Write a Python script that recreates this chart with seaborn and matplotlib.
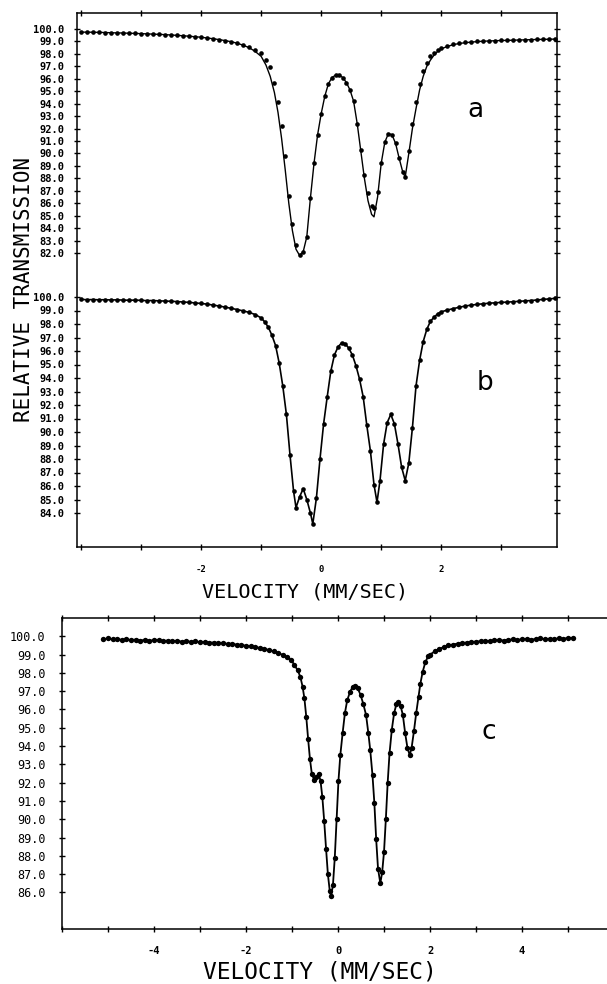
import matplotlib
matplotlib.use("Agg")
import matplotlib.pyplot as plt
import seaborn as sns

# Spectre a (haut) : points mesures + courbe ajustee
vel_a = [-4.0, -3.9, -3.8, -3.7, -3.6, -3.5, -3.4, -3.3, -3.2, -3.1,
         -3.0, -2.9, -2.8, -2.7, -2.6, -2.5, -2.4, -2.3, -2.2, -2.1,
         -2.0, -1.9, -1.8, -1.7, -1.6, -1.5, -1.4, -1.3, -1.2, -1.1,
         -1.0, -0.92, -0.85, -0.78, -0.72, -0.66, -0.60, -0.54, -0.48, -0.42,
         -0.36, -0.30, -0.24, -0.18, -0.12, -0.06, 0.0, 0.06, 0.12, 0.18,
         0.24, 0.30, 0.36, 0.42, 0.48, 0.54, 0.60, 0.66, 0.72, 0.78,
         0.84, 0.88, 0.94, 1.00, 1.06, 1.12, 1.18, 1.24, 1.30, 1.36,
         1.40, 1.46, 1.52, 1.58, 1.64, 1.70, 1.76, 1.82, 1.88, 1.94,
         2.0, 2.1, 2.2, 2.3, 2.4, 2.5, 2.6, 2.7, 2.8, 2.9,
         3.0, 3.1, 3.2, 3.3, 3.4, 3.5, 3.6, 3.7, 3.8, 3.9]
trans_a = [99.75, 99.75, 99.74, 99.73, 99.72, 99.70, 99.69, 99.68, 99.66, 99.65,
           99.63, 99.61, 99.59, 99.57, 99.55, 99.52, 99.49, 99.46, 99.42, 99.38,
           99.34, 99.28, 99.22, 99.15, 99.07, 98.98, 98.88, 98.75, 98.58, 98.35,
           98.05, 97.55, 96.95, 95.7, 94.1, 92.2, 89.8, 86.6, 84.3, 82.6,
           81.85, 82.1, 83.3, 86.4, 89.2, 91.5, 93.2, 94.6, 95.6, 96.1,
           96.3, 96.3, 96.1, 95.7, 95.1, 94.2, 92.4, 90.3, 88.3, 86.8,
           85.8, 85.6, 86.9, 89.2, 90.9, 91.6, 91.5, 90.8, 89.6, 88.5,
           88.1, 90.2, 92.4, 94.1, 95.6, 96.6, 97.3, 97.8, 98.1, 98.35,
           98.5, 98.65, 98.78, 98.86, 98.92, 98.96, 99.0, 99.02, 99.04, 99.06,
           99.08, 99.09, 99.1, 99.12, 99.13, 99.15, 99.16, 99.17, 99.18, 99.19]
fit_a = [99.75, 99.75, 99.74, 99.73, 99.72, 99.70, 99.69, 99.68, 99.66, 99.65,
         99.63, 99.61, 99.59, 99.57, 99.55, 99.52, 99.49, 99.46, 99.42, 99.38,
         99.34, 99.28, 99.22, 99.15, 99.07, 98.98, 98.86, 98.7, 98.5, 98.2,
         97.8, 97.1, 96.2, 94.9, 93.3, 91.2, 88.7, 86.0, 83.8, 82.3,
         81.8, 82.1, 83.3, 86.4, 89.2, 91.5, 93.2, 94.6, 95.6, 96.1,
         96.3, 96.3, 96.1, 95.7, 95.1, 94.2, 92.4, 90.2, 88.0, 86.2,
         85.1, 84.9, 86.5, 89.2, 90.9, 91.6, 91.5, 90.8, 89.6, 88.5,
         88.1, 90.0, 92.0, 93.6, 95.1, 96.2, 97.0, 97.5, 97.9, 98.2,
         98.4, 98.6, 98.74, 98.84, 98.9, 98.95, 98.99, 99.02, 99.04, 99.06,
         99.08, 99.09, 99.1, 99.12, 99.13, 99.15, 99.16, 99.17, 99.18, 99.19]

# Spectre b (milieu)
vel_b = [-4.0, -3.9, -3.8, -3.7, -3.6, -3.5, -3.4, -3.3, -3.2, -3.1,
         -3.0, -2.9, -2.8, -2.7, -2.6, -2.5, -2.4, -2.3, -2.2, -2.1,
         -2.0, -1.9, -1.8, -1.7, -1.6, -1.5, -1.4, -1.3, -1.2, -1.1,
         -1.0, -0.94, -0.88, -0.82, -0.76, -0.70, -0.64, -0.58, -0.52, -0.46,
         -0.42, -0.36, -0.30, -0.24, -0.18, -0.14, -0.08, -0.02, 0.04, 0.10,
         0.16, 0.22, 0.28, 0.34, 0.40, 0.46, 0.52, 0.58, 0.64, 0.70,
         0.76, 0.82, 0.88, 0.93, 0.98, 1.04, 1.10, 1.16, 1.22, 1.28,
         1.34, 1.40, 1.46, 1.52, 1.58, 1.64, 1.70, 1.76, 1.82, 1.88,
         1.94, 2.0, 2.1, 2.2, 2.3, 2.4, 2.5, 2.6, 2.7, 2.8,
         2.9, 3.0, 3.1, 3.2, 3.3, 3.4, 3.5, 3.6, 3.7, 3.8, 3.9]
trans_b = [99.82, 99.80, 99.81, 99.79, 99.80, 99.78, 99.79, 99.77, 99.76, 99.77,
           99.75, 99.73, 99.74, 99.71, 99.70, 99.68, 99.66, 99.63, 99.60, 99.56,
           99.52, 99.47, 99.40, 99.33, 99.25, 99.16, 99.07, 98.97, 98.86, 98.70,
           98.45, 98.15, 97.75, 97.15, 96.4, 95.1, 93.4, 91.3, 88.3, 85.6,
           84.4, 85.2, 85.8, 85.0, 84.0, 83.2, 85.1, 88.0, 90.6, 92.6,
           94.5, 95.7, 96.3, 96.6, 96.55, 96.2, 95.7, 94.9, 93.9, 92.6,
           90.5, 88.6, 86.1, 84.8, 86.4, 89.1, 90.7, 91.3, 90.6, 89.1,
           87.4, 86.4, 87.7, 90.3, 93.4, 95.3, 96.7, 97.6, 98.2, 98.5,
           98.75, 98.9, 99.03, 99.14, 99.24, 99.33, 99.40, 99.45, 99.50, 99.54,
           99.57, 99.60, 99.62, 99.65, 99.68, 99.71, 99.74, 99.78, 99.82, 99.86, 99.90]

# Spectre c (bas)
vel_c = [-5.1, -5.0, -4.9, -4.8, -4.7, -4.6, -4.5, -4.4, -4.3, -4.2,
         -4.1, -4.0, -3.9, -3.8, -3.7, -3.6, -3.5, -3.4, -3.3, -3.2,
         -3.1, -3.0, -2.9, -2.8, -2.7, -2.6, -2.5, -2.4, -2.3, -2.2,
         -2.1, -2.0, -1.9, -1.8, -1.7, -1.6, -1.5, -1.4, -1.3, -1.2, -1.1,
         -1.02, -0.95, -0.88, -0.82, -0.77, -0.73, -0.69, -0.65, -0.61, -0.57,
         -0.52, -0.47, -0.42, -0.38, -0.34, -0.30, -0.26, -0.22, -0.18, -0.15,
         -0.11, -0.07, -0.03, 0.01, 0.05, 0.10, 0.15, 0.20, 0.26, 0.32,
         0.37, 0.43, 0.49, 0.55, 0.61, 0.66, 0.70, 0.75, 0.79, 0.83,
         0.87, 0.92, 0.96, 1.00, 1.04, 1.08, 1.12, 1.17, 1.22, 1.27,
         1.31, 1.36, 1.41, 1.46, 1.51, 1.56, 1.60, 1.65, 1.70, 1.75,
         1.79, 1.84, 1.90, 1.96,
         2.0, 2.1, 2.2, 2.3, 2.4, 2.5, 2.6, 2.7, 2.8, 2.9,
         3.0, 3.1, 3.2, 3.3, 3.4, 3.5, 3.6, 3.7, 3.8, 3.9,
         4.0, 4.1, 4.2, 4.3, 4.4, 4.5, 4.6, 4.7, 4.8, 4.9, 5.0, 5.1]
trans_c = [99.84, 99.88, 99.83, 99.86, 99.80, 99.84, 99.79, 99.82, 99.77, 99.80,
           99.76, 99.79, 99.80, 99.74, 99.77, 99.73, 99.76, 99.71, 99.74, 99.70,
           99.72, 99.67, 99.70, 99.65, 99.66, 99.62, 99.63, 99.58, 99.59, 99.54,
           99.53, 99.48, 99.45, 99.40, 99.37, 99.31, 99.25, 99.18, 99.09, 98.98, 98.85,
           98.7, 98.45, 98.15, 97.8, 97.25, 96.6, 95.6, 94.4, 93.3, 92.5,
           92.15, 92.3, 92.5, 92.1, 91.2, 89.9, 88.4, 87.0, 86.1, 85.8,
           86.4, 87.9, 90.0, 92.1, 93.5, 94.7, 95.8, 96.5, 96.95, 97.25,
           97.3, 97.15, 96.8, 96.3, 95.7, 94.7, 93.8, 92.4, 90.9, 88.9,
           87.3, 86.5, 87.1, 88.2, 90.0, 92.0, 93.6, 94.9, 95.8, 96.3,
           96.4, 96.2, 95.7, 94.7, 93.9, 93.5, 93.9, 94.8, 95.8, 96.7,
           97.4, 98.05, 98.6, 98.9,
           99.0, 99.17, 99.3, 99.42, 99.5, 99.55, 99.6, 99.63, 99.66, 99.69,
           99.71, 99.73, 99.76, 99.74, 99.78, 99.80, 99.77, 99.81, 99.83, 99.80,
           99.84, 99.86, 99.82, 99.85, 99.88, 99.84, 99.87, 99.85, 99.89, 99.86, 99.92, 99.90]

# Graduations
ticks_a = list(range(82, 101))
ticks_b = list(range(84, 101))
ticks_c = list(range(86, 101))
xticks_top = [-2, 0, 2]
xticks_c = [-4, -2, 0, 2, 4]

sns.set_style("white", {"axes.edgecolor": "black", "text.color": "black",
                        "xtick.color": "black", "ytick.color": "black",
                        "axes.labelcolor": "black"})
plt.rcParams["font.family"] = ["DejaVu Sans Mono", "DejaVu Sans"]

W, H = 607, 984
fig = plt.figure(figsize=(W / 100, H / 100), dpi=100)


def box(left, top, right, bottom):
    # position en pixels -> fraction de figure
    return [left / W, 1 - bottom / H, (right - left) / W, (bottom - top) / H]


XLIM_TOP = (-4.07, 3.93)

# Cadre du panneau superieur
frame = fig.add_axes(box(77, 13, 557, 547))
frame.set_xlim(XLIM_TOP)
frame.set_ylim(0, 1)
frame.set_yticks([])
frame.set_xticks(xticks_top)
frame.set_xticks(range(-4, 4), minor=True)
frame.set_xticklabels([str(t) for t in xticks_top], fontsize=6.5, fontweight="bold")
frame.tick_params(axis="x", which="both", direction="inout", length=4, width=1,
                  top=True, bottom=True, pad=11)
for sp in frame.spines.values():
    sp.set_linewidth(1.1)
frame.set_xlabel("VELOCITY (MM/SEC)", fontsize=14.5)
frame.xaxis.set_label_coords(0.475, -0.066)


def spectrum_axes(rect, ylim, ticks, xlim, size=7.5, pad=7):
    ax = fig.add_axes(rect)
    ax.patch.set_visible(False)
    for sp in ax.spines.values():
        sp.set_visible(False)
    ax.set_xlim(xlim)
    ax.set_ylim(ylim)
    ax.set_xticks([])
    ax.set_yticks(ticks)
    ax.set_yticklabels([f"{t:.1f}" for t in ticks], fontsize=size, fontweight="bold")
    ax.tick_params(axis="y", direction="inout", length=4, width=1,
                   left=True, right=True, pad=pad)
    return ax


# Spectre a
ax_a = spectrum_axes(box(77, 16.6, 557, 265.4), (81, 101), ticks_a, XLIM_TOP)
sns.lineplot(x=vel_a, y=fit_a, ax=ax_a, color="black", linewidth=1,
             sort=False, estimator=None)
sns.scatterplot(x=vel_a, y=trans_a, ax=ax_a, color="black", s=11, linewidth=0)
ax_a.set_xlim(XLIM_TOP)
ax_a.set_ylim(81, 101)

# Spectre b
ax_b = spectrum_axes(box(77, 283.5, 557, 526.5), (83, 101), ticks_b, XLIM_TOP)
sns.lineplot(x=vel_b, y=trans_b, ax=ax_b, color="black", linewidth=1.2,
             sort=False, estimator=None)
sns.scatterplot(x=vel_b, y=trans_b, ax=ax_b, color="black", s=11, linewidth=0)
ax_b.set_xlim(XLIM_TOP)
ax_b.set_ylim(83, 101)

# Spectre c (panneau inferieur, coupe a droite)
ax_c = fig.add_axes(box(62, 618, 62 + 12 * 46, 929))
sns.lineplot(x=vel_c, y=trans_c, ax=ax_c, color="black", linewidth=1.3,
             sort=False, estimator=None)
sns.scatterplot(x=vel_c, y=trans_c, ax=ax_c, color="black", s=15, linewidth=0)
ax_c.set_xlim(-6, 6)
ax_c.set_ylim(84, 101)
ax_c.set_yticks(ticks_c)
ax_c.set_yticklabels([f"{t:.1f}" for t in ticks_c], fontsize=8.5)
ax_c.set_xticks(xticks_c)
ax_c.set_xticks(range(-6, 7), minor=True)
ax_c.set_xticklabels([str(t) for t in xticks_c], fontsize=7.5, fontweight="bold")
ax_c.tick_params(axis="y", direction="inout", length=4, width=1, left=True, pad=10)
ax_c.tick_params(axis="x", which="both", direction="inout", length=4, width=1,
                 top=True, bottom=True, pad=10)
for sp in ax_c.spines.values():
    sp.set_linewidth(1.1)
ax_c.set_xlabel("VELOCITY (MM/SEC)", fontsize=16.5)
ax_c.xaxis.set_label_coords(0.467, -0.1)

# Titre de l'axe y commun et lettres des panneaux
fig.text(24 / W, 1 - 289 / H, "RELATIVE TRANSMISSION", rotation=90,
         ha="center", va="center", fontsize=15)
fig.text(475 / W, 1 - 110 / H, "a", ha="center", va="center", fontsize=19,
         family="DejaVu Sans")
fig.text(485 / W, 1 - 383 / H, "b", ha="center", va="center", fontsize=19,
         family="DejaVu Sans")
fig.text(489 / W, 1 - 732 / H, "c", ha="center", va="center", fontsize=19,
         family="DejaVu Sans")

fig.savefig("out.png", dpi=100)
plt.close(fig)
